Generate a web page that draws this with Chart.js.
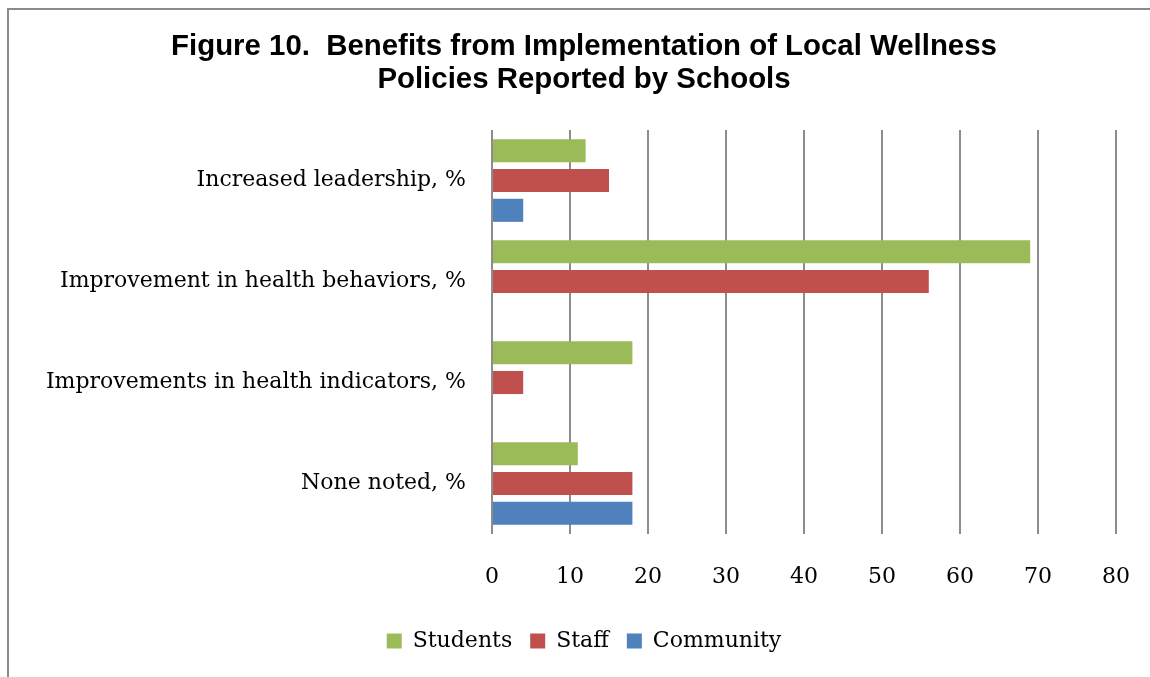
<!DOCTYPE html>
<html>
<head>
<meta charset="utf-8">
<script src="https://cdn.jsdelivr.net/npm/chart.js@4"></script>
<style>
  html, body { margin: 0; padding: 0; background: #fff; }
  #wrap { position: relative; width: 1150px; height: 677px; }
</style>
</head>
<body>
<div id="wrap"><canvas id="chart" width="1150" height="677"></canvas></div>
<script>
// Benefit categories, top to bottom
const categories = [
  'Increased leadership, %',
  'Improvement in health behaviors, %',
  'Improvements in health indicators, %',
  'None noted, %'
];
// Percent of schools reporting each benefit, by group
const studentsValues  = [12, 69, 18, 11];
const staffValues     = [15, 56, 4, 18];
const communityValues = [4, 0, 0, 18];
// Value axis ticks
const xTicks = [0, 10, 20, 30, 40, 50, 60, 70, 80];

const titleLines = [
  'Figure 10.  Benefits from Implementation of Local Wellness',
  'Policies Reported by Schools'
];

const serif = '"DejaVu Serif", serif';

// Thin gray frame along the top and left edges
const framePlugin = {
  id: 'frame',
  beforeDraw(chart) {
    const ctx = chart.ctx;
    ctx.save();
    ctx.strokeStyle = '#8a8a8a';
    ctx.lineWidth = 2;
    ctx.beginPath();
    ctx.moveTo(8, 677);
    ctx.lineTo(8, 9);
    ctx.lineTo(1150, 9);
    ctx.stroke();
    ctx.restore();
  }
};

new Chart(document.getElementById('chart'), {
  type: 'bar',
  data: {
    labels: categories,
    datasets: [
      { label: 'Students',  data: studentsValues,  backgroundColor: '#9BBB59' },
      { label: 'Staff',     data: staffValues,     backgroundColor: '#C0504D' },
      { label: 'Community', data: communityValues, backgroundColor: '#4F81BD' }
    ]
  },
  options: {
    indexAxis: 'y',
    responsive: false,
    animation: false,
    devicePixelRatio: 1,
    datasets: {
      bar: { categoryPercentage: 0.885, barPercentage: 0.775 }
    },
    layout: { padding: { left: 42, right: 24, top: 0, bottom: 15 } },
    scales: {
      x: {
        min: 0,
        max: 80,
        afterBuildTicks(scale) { scale.ticks = xTicks.map(v => ({ value: v })); },
        afterFit(scale) {
          scale.height = 78;
          scale.paddingLeft = 0;
          scale.paddingRight = 34;
        },
        grid: { color: '#8c8c8c', lineWidth: 2, drawTicks: false },
        border: { display: false },
        ticks: { color: '#000', font: { family: serif, size: 22 }, padding: 30 }
      },
      y: {
        afterFit(scale) { scale.width = 450; },
        grid: { display: false, drawTicks: false },
        border: { display: false },
        ticks: { color: '#000', font: { family: serif, size: 22 }, padding: 26 }
      }
    },
    plugins: {
      title: {
        display: true,
        text: titleLines,
        color: '#000',
        font: { family: '"Liberation Sans", Arial, sans-serif', size: 29.4, weight: 'bold', lineHeight: 1.14 },
        padding: { top: 30, bottom: 33 }
      },
      legend: {
        position: 'bottom',
        labels: {
          color: '#000',
          font: { family: serif, size: 22 },
          boxWidth: 15,
          boxHeight: 15,
          padding: 18
        }
      },
      tooltip: { enabled: false }
    }
  },
  plugins: [framePlugin]
});
</script>
</body>
</html>
